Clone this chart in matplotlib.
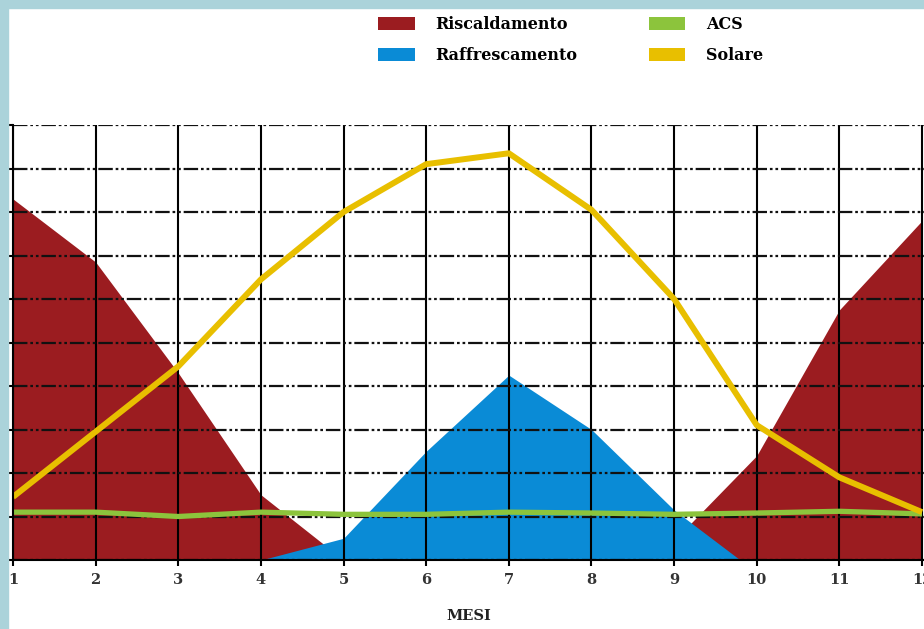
import numpy as np
import matplotlib.pyplot as plt
from matplotlib.patches import Patch, Rectangle

# Dati (unita' = linee della griglia)
mesi = [1, 2, 3, 4, 5, 6, 7, 8, 9, 10, 11, 12]
riscaldamento = [8.3, 6.85, 4.3, 1.5, 0, 0, 0, 0, 0.45, 2.4, 5.75, 7.8]
raffrescamento = [0, 0, 0, 0, 0.5, 2.5, 4.25, 3.0, 1.15, 0, 0, 0]
acs = [1.1, 1.1, 1.0, 1.1, 1.05, 1.05, 1.1, 1.08, 1.05, 1.08, 1.12, 1.06]
solare = [1.45, 2.95, 4.45, 6.45, 8.0, 9.1, 9.35, 8.05, 6.0, 3.1, 1.9, 1.1]

nomi = ['Riscaldamento', 'Raffrescamento', 'ACS', 'Solare']
colori = ['#9b1c20', '#0a8bd6', '#8cc43c', '#e8bf00']

fig = plt.figure(figsize=(9.24, 6.29), dpi=100)
fig.patch.set_facecolor('white')

# cornice azzurra a sinistra e in alto
fig.patches.append(Rectangle((0, 0), 8 / 924, 1, transform=fig.transFigure,
                             color='#abd3da', zorder=0))
fig.patches.append(Rectangle((0, 1 - 8 / 629), 1, 8 / 629, transform=fig.transFigure,
                             color='#abd3da', zorder=0))

ax = fig.add_axes([13 / 924, (629 - 560) / 629, (924 - 13) / 924, 435 / 629])

# Riscaldamento dietro, Raffrescamento sopra
ax.fill_between(mesi, 0, riscaldamento, color=colori[0], linewidth=0, zorder=1)
# il raffrescamento parte da 4 e torna a zero verso 9.8
xb = [4] + mesi[4:9] + [9.8]
yb = [0] + raffrescamento[4:9] + [0]
ax.fill_between(xb, 0, yb, color=colori[1], linewidth=0, zorder=1.5)

ax.plot(mesi, acs, color=colori[2], lw=3.8, zorder=4, solid_capstyle='butt')
ax.plot(mesi, solare, color=colori[3], lw=4.3, zorder=5, solid_joinstyle='round',
        solid_capstyle='butt')

ax.set_xlim(1, 12.024)
ax.set_ylim(0, 10)
ax.set_xticks(mesi)
ax.set_yticks(range(0, 11))
ax.set_yticklabels([])
ax.set_axisbelow(False)
ax.xaxis.grid(True, color='black', lw=1.5, linestyle='-', zorder=3)
ax.yaxis.grid(True, color='#111111', lw=1.6, zorder=3,
              linestyle=(0, (6.5, 1.3, 1.2, 1.3, 1.2, 1.3)))

for s in ['top', 'right']:
    ax.spines[s].set_visible(False)
for s in ['left', 'bottom']:
    ax.spines[s].set_linewidth(1.5)
    ax.spines[s].set_zorder(6)

ax.tick_params(axis='x', direction='out', length=4, width=1.5, pad=5,
               labelsize=10.5, labelcolor='#333333')
ax.tick_params(axis='y', direction='out', length=3, width=1.5)
for t in ax.get_xticklabels():
    t.set_fontweight('bold')
    t.set_family('DejaVu Serif')

ax.set_xlabel('MESI', fontsize=10.5, fontweight='bold', family='DejaVu Serif',
              color='#222222', labelpad=16)

handles = [Patch(facecolor=c, edgecolor='none') for c in colori]
fig.legend(handles, nomi, ncol=2, loc='upper left',
           bbox_to_anchor=(378 / 924, 1 - 16 / 629), frameon=False,
           prop={'family': 'DejaVu Serif', 'weight': 'bold', 'size': 11.5},
           handlelength=2.3, handleheight=0.85, handletextpad=1.3,
           columnspacing=4.45, labelspacing=0.9, borderpad=0, borderaxespad=0)

plt.savefig('out.png', dpi=100)
